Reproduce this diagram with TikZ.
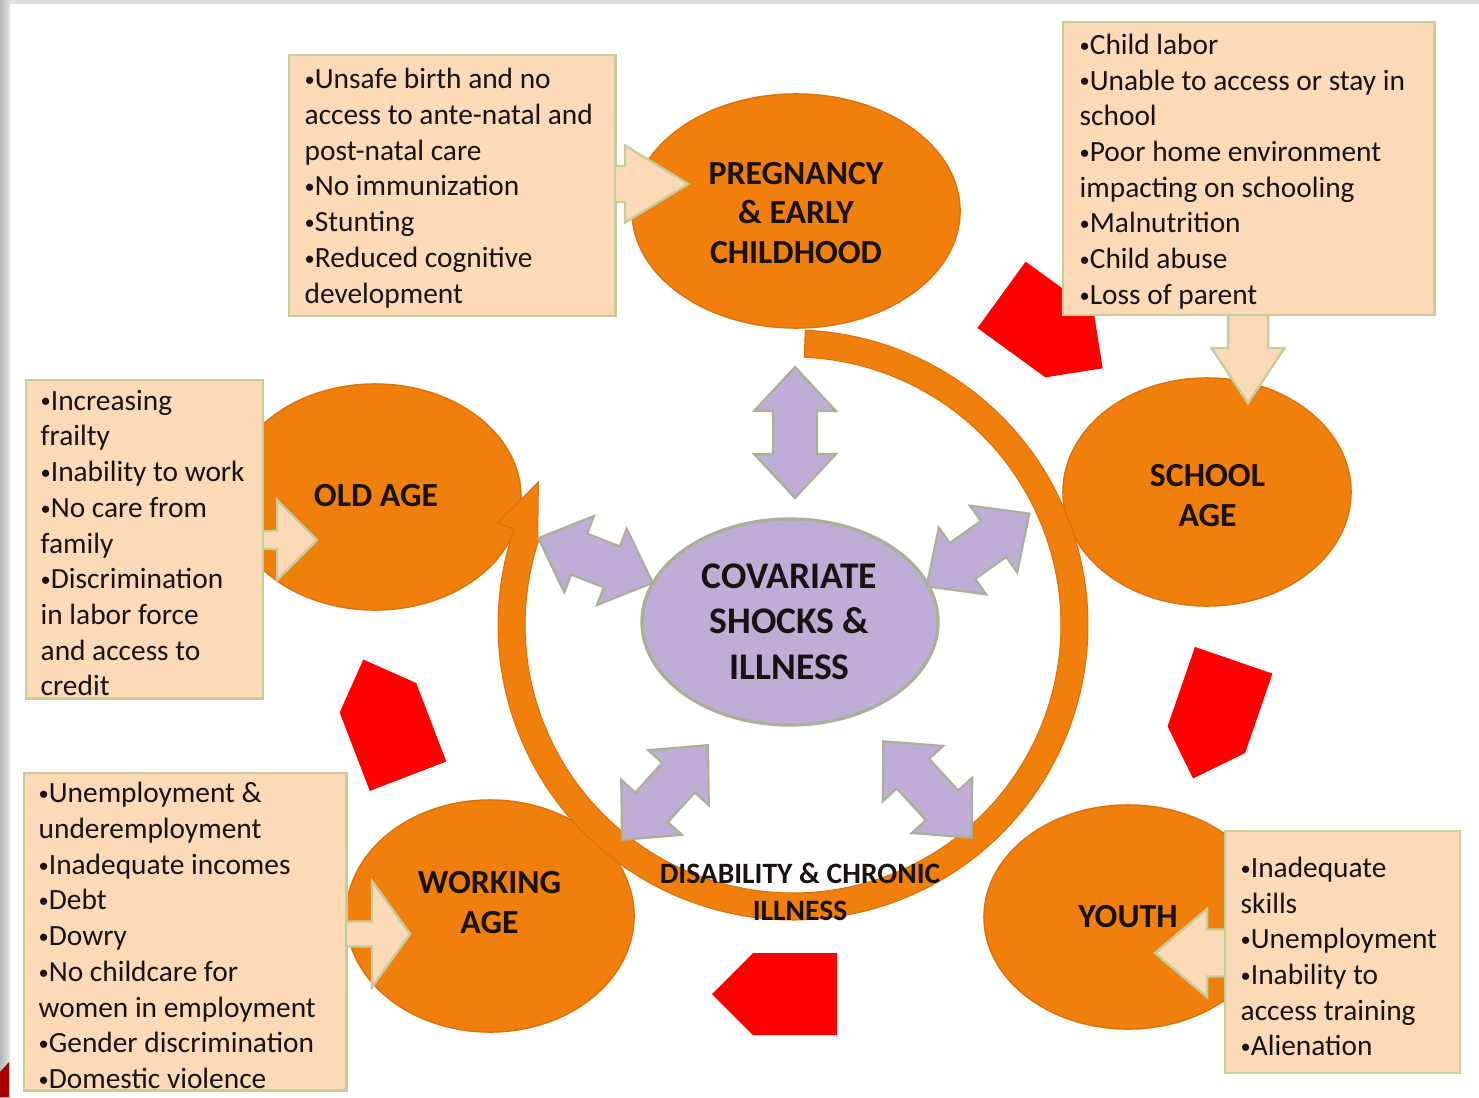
\documentclass[tikz,border=0pt]{standalone}
\usepackage{fontspec}
\setmainfont{Carlito}
\usetikzlibrary{shapes.geometric}

\definecolor{orng}{RGB}{240,127,12}
\definecolor{orngd}{RGB}{222,112,10}
\definecolor{lilac}{RGB}{191,173,214}
\definecolor{lilacb}{RGB}{170,176,150}
\definecolor{peach}{RGB}{252,218,184}
\definecolor{peachb}{RGB}{198,204,156}
\definecolor{redp}{RGB}{254,0,0}
\definecolor{txt}{RGB}{25,18,18}

\newcommand\bul{\raisebox{0.15ex}{\fontsize{5.8pt}{0pt}\selectfont•}}

\newcommand\blockarrow[7]{%
\begin{scope}[shift={#1},rotate=#2]
\draw[#7] (0,-#4) -- ({#3-#6},-#4) -- ({#3-#6},-#5) -- (#3,0) -- ({#3-#6},#5) -- ({#3-#6},#4) -- (0,#4) -- cycle;
\end{scope}}

\newcommand\dblarrow[3]{%
\begin{scope}[shift={#1},rotate=#2]
\draw[lilarrow] ({-#3/2},0) -- ({-#3/2+44},-41) -- ({-#3/2+44},-22) -- ({#3/2-44},-22) -- ({#3/2-44},-41) -- ({#3/2},0) -- ({#3/2-44},41) -- ({#3/2-44},22) -- ({-#3/2+44},22) -- ({-#3/2+44},41) -- cycle;
\end{scope}}

\newcommand\pentarrow[2]{%
\begin{scope}[shift={#1},rotate=#2]
\fill[redp] (-42,-41) -- (42,-41) -- (83,0) -- (42,41) -- (-42,41) -- cycle;
\end{scope}}

\begin{document}
\begin{tikzpicture}[x=0.01cm,y=-0.01cm,
  stage/.style={ellipse, fill=orng, draw=orngd, line width=0.4pt, inner sep=0pt},
  center/.style={ellipse, fill=lilac, draw=lilacb, line width=0.9pt, inner sep=0pt},
  infobox/.style={rectangle, fill=peach, draw=peachb, line width=0.8pt, inner sep=0pt},
  btext/.style={anchor=west, align=left, inner sep=0pt, text=txt, font=\fontsize{8.35pt}{10.16pt}\selectfont},
  stext/.style={align=center, inner sep=0pt, text=txt, font=\bfseries\fontsize{9.6pt}{11.3pt}\selectfont},
  ctext/.style={align=center, inner sep=0pt, text=txt, font=\bfseries\fontsize{10.7pt}{12.9pt}\selectfont},
  dtext/.style={align=center, inner sep=0pt, text=txt, font=\bfseries\fontsize{8.4pt}{10.5pt}\selectfont},
  parrow/.style={fill=peach, draw=peachb, line width=0.7pt, line join=miter},
  lilarrow/.style={fill=lilac, draw=lilacb, line width=0.6pt, line join=miter}]

\useasboundingbox (0,0) rectangle (1479,1097);
\fill[white] (0,0) rectangle (1479,1097);
\shade[left color=black!28, right color=black!10] (0,0) rectangle (10,1097);
\fill[black!12] (10,0) rectangle (1479,4);
\fill[red!65!black] (0,1072) -- (9,1062) -- (9,1097) -- (0,1097) -- cycle;

% stage ellipses
\node[stage, minimum width=3.28cm, minimum height=2.34cm] (preg) at (796,211) {};
\node[stage, minimum width=2.88cm, minimum height=2.28cm] (school) at (1207,492) {};
\node[stage, minimum width=2.88cm, minimum height=2.24cm] (youth) at (1128,917) {};
\node[stage, minimum width=2.88cm, minimum height=2.32cm] (work) at (490,916) {};
\node[stage, minimum width=2.92cm, minimum height=2.26cm] (old) at (375,497) {};

% cycle ring
\filldraw[fill=orng, draw=orngd, line width=0.3pt]
  plot[domain=272.4:559, samples=140] ({793+295*cos(\x)},{625+295*sin(\x)})
  -- ({793+313*cos(559)},{625+313*sin(559)})
  -- ({793+292*cos(569.3)},{625+292*sin(569.3)})
  -- ({793+270*cos(559)},{625+270*sin(559)})
  -- plot[domain=559:272.4, samples=140] ({793+268*cos(\x)},{625+268*sin(\x)})
  -- cycle;

% red direction pentagons
\pentarrow{(1035.5,319.5)}{-36}
\pentarrow{(1220,700)}{-109}
\pentarrow{(795,994)}{180}
\pentarrow{(393,737)}{111}

% centre and double arrows
\dblarrow{(795,432.5)}{90}{131}
\dblarrow{(595.5,560.5)}{-21.3}{123}
\dblarrow{(978,550)}{35.3}{126}
\dblarrow{(665,792.5)}{47.8}{128}
\dblarrow{(927.5,789.5)}{-47.5}{131}
\node[center, minimum width=2.96cm, minimum height=2.06cm] (cov) at (790,622) {};

% info boxes
\node[infobox, minimum width=3.26cm, minimum height=2.61cm] (boxA) at (452,185.5) {};
\node[infobox, minimum width=3.71cm, minimum height=2.93cm] (boxB) at (1248.5,168.5) {};
\node[infobox, minimum width=2.37cm, minimum height=3.18cm] (boxC) at (144.5,539) {};
\node[infobox, minimum width=3.22cm, minimum height=3.17cm] (boxD) at (185,931.5) {};
\node[infobox, minimum width=2.35cm, minimum height=2.42cm] (boxE) at (1342.5,952) {};

% peach arrows from boxes to stages
\blockarrow{(615,184)}{0}{73}{18}{38.5}{63}{parrow}
\blockarrow{(1248,315)}{-90}{88}{20}{36.5}{55}{parrow}
\blockarrow{(263,540)}{0}{54}{9}{40}{40}{parrow}
\blockarrow{(346,934)}{0}{64}{12.5}{53}{38}{parrow}
\blockarrow{(1225,953)}{180}{70}{23.5}{44}{52}{parrow}

% box texts
\node[btext] (tA) at (304,188) {\bul Unsafe birth and no\\access to ante-natal and\\post-natal care\\\bul No immunization\\\bul Stunting\\\bul Reduced cognitive\\development};
\node[btext] (tB) at (1079,171.5) {\bul Child labor\\\bul Unable to access or stay in\\school\\\bul Poor home environment\\impacting on schooling\\\bul Malnutrition\\\bul Child abuse\\\bul Loss of parent};
\node[btext] (tC) at (40,543) {\bul Increasing\\frailty\\\bul Inability to work\\\bul No care from\\family\\\bul Discrimination\\in labor force\\and access to\\credit};
\node[btext] (tD) at (38,935.5) {\bul Unemployment \&\\underemployment\\\bul Inadequate incomes\\\bul Debt\\\bul Dowry\\\bul No childcare for\\women in employment\\\bul Gender discrimination\\\bul Domestic violence};
\node[btext] (tE) at (1240,956.5) {\bul Inadequate\\skills\\\bul Unemployment\\\bul Inability to\\access training\\\bul Alienation};

% stage labels
\node[stext] (lpreg) at (796,213) {PREGNANCY\\\& EARLY\\CHILDHOOD};
\node[stext] (lschool) at (1207.5,495.5) {SCHOOL\\AGE};
\node[stext] (lyouth) at (1128,917) {YOUTH};
\node[stext] (lwork) at (489.5,902.5) {WORKING\\AGE};
\node[stext] (lold) at (376,496) {OLD AGE};
\node[ctext] (lcov) at (789.5,621.5) {COVARIATE\\SHOCKS \&\\ILLNESS};
\node[dtext] (ldis) at (800,891.5) {DISABILITY \& CHRONIC\\ILLNESS};
\end{tikzpicture}
\end{document}
